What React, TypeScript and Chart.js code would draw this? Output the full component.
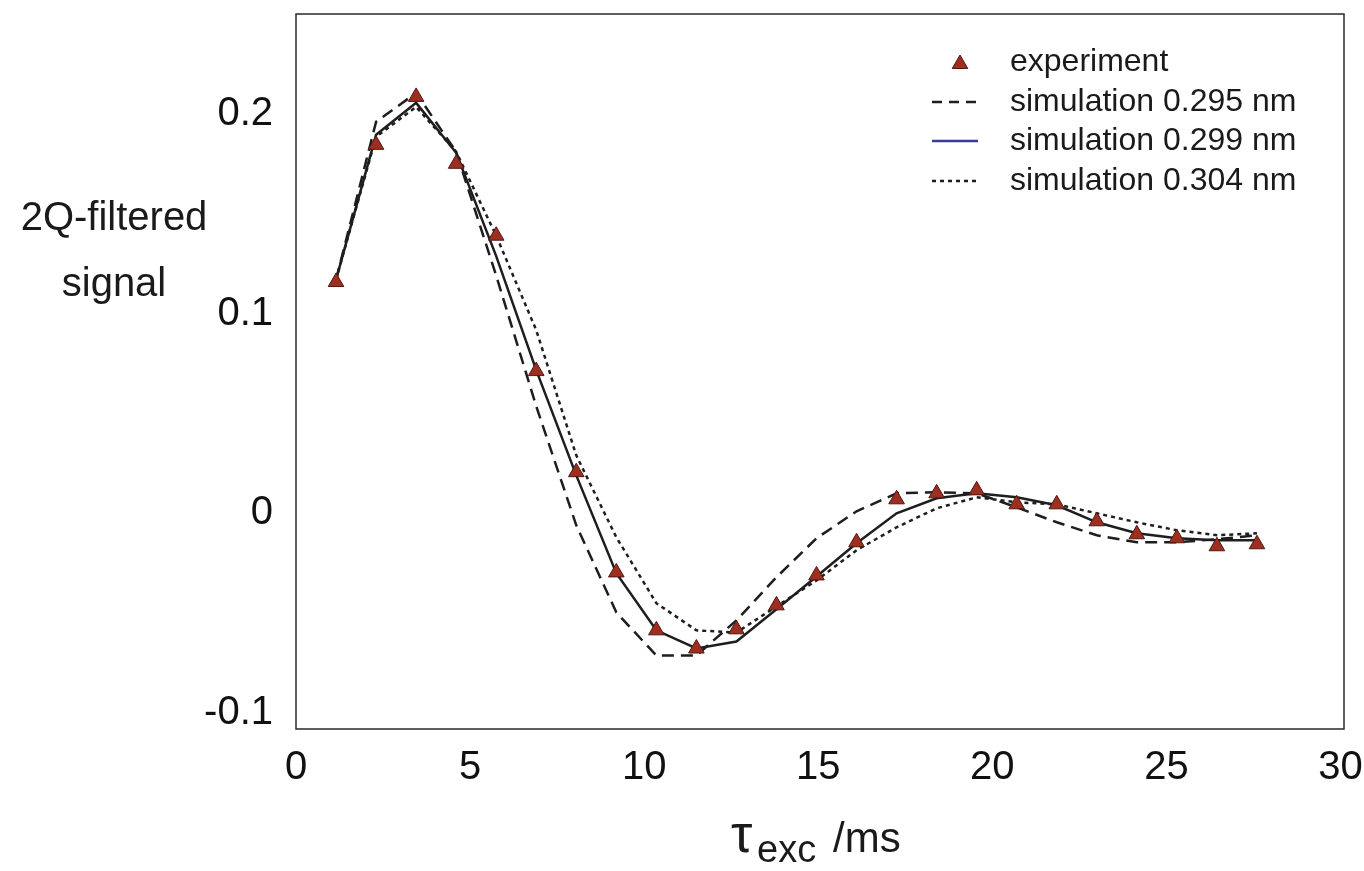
import { useEffect, useRef } from "react";
import { Chart, registerables } from "chart.js";

Chart.register(...registerables);

// excitation time (ms)
const tau = [1.15, 2.3, 3.45, 4.6, 5.75, 6.9, 8.05, 9.2, 10.35, 11.5, 12.65, 13.8, 14.95, 16.1, 17.25, 18.4, 19.55, 20.7, 21.85, 23.0, 24.15, 25.3, 26.45, 27.6];

const experiment = [0.1158, 0.1845, 0.2085, 0.175, 0.139, 0.0712, 0.0206, -0.0296, -0.0586, -0.0677, -0.0581, -0.0461, -0.0311, -0.0145, 0.007, 0.01, 0.0115, 0.0045, 0.0045, -0.004, -0.0105, -0.0125, -0.0165, -0.0155];
const sim0295 = [0.117, 0.196, 0.2105, 0.181, 0.119, 0.0536, -0.006, -0.0496, -0.0712, -0.0712, -0.0536, -0.032, -0.0125, 0.001, 0.01, 0.0105, 0.01, 0.003, -0.0045, -0.011, -0.0145, -0.0145, -0.013, -0.011];
const sim0299 = [0.117, 0.1895, 0.2055, 0.1805, 0.1288, 0.0717, 0.019, -0.03, -0.0586, -0.0677, -0.0642, -0.048, -0.0316, -0.015, 0.0, 0.0075, 0.01, 0.008, 0.004, -0.0045, -0.01, -0.0125, -0.0135, -0.0135];
const sim0304 = [0.117, 0.1885, 0.2035, 0.181, 0.139, 0.0917, 0.029, -0.012, -0.045, -0.0586, -0.0597, -0.0466, -0.0336, -0.0185, -0.007, 0.0025, 0.008, 0.0055, 0.0045, 0.0, -0.0045, -0.0085, -0.011, -0.01];

const xTicks = [0, 5, 10, 15, 20, 25, 30];
const yTicks = [-0.1, 0, 0.1, 0.2];
const yTickLabels = ["-0.1", "0", "0.1", "0.2"];

const legendLabels = ["experiment", "simulation 0.295 nm", "simulation 0.299 nm", "simulation 0.304 nm"];

const FONT = "'Liberation Sans', Arial, Helvetica, sans-serif";
const MARKER_FILL = "#9d2e20";
const MARKER_EDGE = "#4a1a12";
const LINE_COLOR = "#1e1e1e";

function tri(ctx: CanvasRenderingContext2D, x: number, y: number, r: number) {
  ctx.beginPath();
  for (let k = 0; k < 3; k++) {
    const a = (k * 2 * Math.PI) / 3;
    const px = x + Math.sin(a) * r;
    const py = y - Math.cos(a) * r;
    if (k === 0) ctx.moveTo(px, py);
    else ctx.lineTo(px, py);
  }
  ctx.closePath();
  ctx.fillStyle = MARKER_FILL;
  ctx.fill();
  ctx.lineWidth = 1;
  ctx.strokeStyle = MARKER_EDGE;
  ctx.stroke();
}

const decorPlugin = {
  id: "decor",
  afterDraw(chart: any) {
    const ctx: CanvasRenderingContext2D = chart.ctx;
    const a = chart.chartArea;
    ctx.save();
    // frame
    ctx.strokeStyle = "#2a2a2a";
    ctx.lineWidth = 1.5;
    ctx.setLineDash([]);
    ctx.strokeRect(a.left, a.top, a.right - a.left, a.bottom - a.top);

    // legend
    const rows = [62, 102, 141, 181];
    tri(ctx, 960, rows[0] + 2, 9);
    const dashes = [[10, 7], [], [4, 4]];
    const colors = [LINE_COLOR, "#3b3b98", LINE_COLOR];
    for (let k = 0; k < 3; k++) {
      ctx.beginPath();
      ctx.setLineDash(dashes[k]);
      ctx.strokeStyle = colors[k];
      ctx.lineWidth = 2.5;
      ctx.moveTo(932, rows[k + 1]);
      ctx.lineTo(978, rows[k + 1]);
      ctx.stroke();
    }
    ctx.setLineDash([]);
    ctx.fillStyle = "#1a1a1a";
    ctx.font = `32px ${FONT}`;
    ctx.textAlign = "left";
    ctx.textBaseline = "middle";
    legendLabels.forEach((t, k) => ctx.fillText(t, 1010, rows[k]));

    // y title
    ctx.font = `40px ${FONT}`;
    ctx.textAlign = "center";
    ctx.textBaseline = "alphabetic";
    ctx.fillText("2Q-filtered", 114, 230);
    ctx.fillText("signal", 114, 296);

    // x title
    ctx.textAlign = "left";
    ctx.font = `54px ${FONT}`;
    ctx.fillText("τ", 731, 852);
    ctx.font = `38px ${FONT}`;
    ctx.fillText("exc", 757, 862);
    ctx.font = `42px ${FONT}`;
    ctx.fillText("/ms", 833, 852);
    ctx.restore();
  },
};

export default function App() {
  const ref = useRef<HTMLCanvasElement | null>(null);
  useEffect(() => {
    if (!ref.current) return;
    const chart = new Chart(ref.current, {
      type: "scatter",
      data: {
        datasets: [
          {
            label: legendLabels[0],
            data: tau.map((x, i) => ({ x, y: experiment[i] })),
            showLine: false,
            pointStyle: "triangle",
            pointRadius: 9,
            backgroundColor: MARKER_FILL,
            borderColor: MARKER_EDGE,
            borderWidth: 1,
            order: 0,
          },
          {
            label: legendLabels[1],
            data: tau.map((x, i) => ({ x, y: sim0295[i] })),
            showLine: true,
            pointRadius: 0,
            borderColor: LINE_COLOR,
            borderWidth: 2.5,
            borderDash: [12, 7],
            tension: 0,
            order: 1,
          },
          {
            label: legendLabels[2],
            data: tau.map((x, i) => ({ x, y: sim0299[i] })),
            showLine: true,
            pointRadius: 0,
            borderColor: LINE_COLOR,
            borderWidth: 2.5,
            tension: 0,
            order: 1,
          },
          {
            label: legendLabels[3],
            data: tau.map((x, i) => ({ x, y: sim0304[i] })),
            showLine: true,
            pointRadius: 0,
            borderColor: LINE_COLOR,
            borderWidth: 2.5,
            borderDash: [4, 4],
            tension: 0,
            order: 1,
          },
        ],
      },
      options: {
        animation: false,
        responsive: false,
        devicePixelRatio: 1,
        layout: { padding: { top: 14, right: 20, left: 0, bottom: 0 } },
        plugins: { legend: { display: false }, tooltip: { enabled: false } },
        scales: {
          x: {
            type: "linear",
            min: 0,
            max: 30.1,
            grid: { display: false, drawTicks: false },
            border: { display: false },
            ticks: {
              font: { size: 40, family: FONT },
              color: "#111",
              padding: 15,
              maxRotation: 0,
              callback: (v: any) => String(v),
            },
            afterBuildTicks: (s: any) => {
              s.ticks = xTicks.map((v) => ({ value: v }));
            },
            afterFit: (s: any) => {
              s.height = 142;
              s.paddingLeft = 0;
              s.paddingRight = 0;
            },
          },
          y: {
            type: "linear",
            min: -0.108,
            max: 0.25,
            grid: { display: false, drawTicks: false },
            border: { display: false },
            ticks: {
              font: { size: 40, family: FONT },
              color: "#111",
              padding: 23,
              callback: (v: any) => {
                const i = yTicks.indexOf(v);
                return i >= 0 ? yTickLabels[i] : "";
              },
            },
            afterBuildTicks: (s: any) => {
              s.ticks = yTicks.map((v) => ({ value: v }));
            },
            afterFit: (s: any) => {
              s.width = 296;
              s.paddingTop = 0;
              s.paddingBottom = 0;
            },
          },
        },
      },
      plugins: [decorPlugin],
    });
    return () => chart.destroy();
  }, []);
  return (
    <div style={{ position: "absolute", left: 0, top: 0, width: 1364, height: 871, background: "#fff" }}>
      <canvas ref={ref} width={1364} height={871} style={{ width: 1364, height: 871, display: "block" }} />
    </div>
  );
}
